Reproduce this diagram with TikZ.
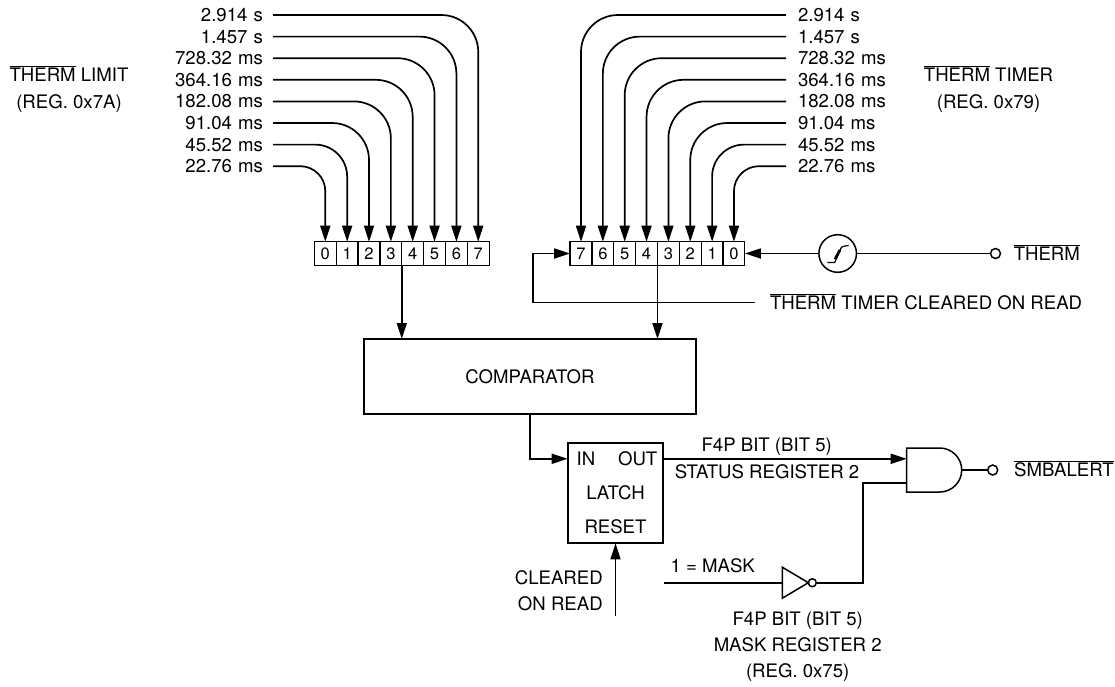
\documentclass[tikz,border=0pt]{standalone}
\usepackage{fontspec}
\setmainfont{TeX Gyre Heros}
\usetikzlibrary{arrows.meta,positioning,shapes.geometric,shapes.gates.logic.US}
\newcommand{\diagfont}{\fontsize{18.6pt}{26pt}\selectfont}
\newcommand{\bitfont}{\fontsize{16.5pt}{18pt}\selectfont}
\newcommand{\barname}[1]{$\overline{\mbox{#1}}$}
\tikzset{
    every node/.style={font=\diagfont,inner sep=0pt,outer sep=0pt},
    capstext/.style={text height=13pt,text depth=0pt},
    timeleft/.style={capstext,text width=96pt,align=right,inner xsep=10pt},
    timeright/.style={capstext,text width=96pt,align=left,inner xsep=12pt},
    bitcell/.style={rectangle,draw,line width=1.2pt,minimum width=21.85pt,minimum height=23.6pt,font=\bitfont,text height=11.4pt,text depth=0pt},
    blockbox/.style={rectangle,draw,line width=1.7pt,capstext},
    bubble/.style={circle,draw,line width=1.5pt,minimum size=10pt},
    sigline/.style={-{Triangle[length=16pt,width=10pt]},line width=1.7pt},
    plainline/.style={line width=1.7pt},
    bigbend/.style={sigline,rounded corners=37pt}
}
\begin{document}
\begin{tikzpicture}[x=1pt,y=-1pt,node distance=8.6pt]
    \useasboundingbox (0,0) rectangle (1115,686);
    \node[timeleft,anchor=east] (limt7) at (273,15) {2.914 s};
    \node[timeleft,below=of limt7] (limt6) {1.457 s};
    \node[timeleft,below=of limt6] (limt5) {728.32 ms};
    \node[timeleft,below=of limt5] (limt4) {364.16 ms};
    \node[timeleft,below=of limt4] (limt3) {182.08 ms};
    \node[timeleft,below=of limt3] (limt2) {91.04 ms};
    \node[timeleft,below=of limt2] (limt1) {45.52 ms};
    \node[timeleft,below=of limt1] (limt0) {22.76 ms};
    \node[timeright,anchor=west] (tmrt7) at (786,15) {2.914 s};
    \node[timeright,below=of tmrt7] (tmrt6) {1.457 s};
    \node[timeright,below=of tmrt6] (tmrt5) {728.32 ms};
    \node[timeright,below=of tmrt5] (tmrt4) {364.16 ms};
    \node[timeright,below=of tmrt4] (tmrt3) {182.08 ms};
    \node[timeright,below=of tmrt3] (tmrt2) {91.04 ms};
    \node[timeright,below=of tmrt2] (tmrt1) {45.52 ms};
    \node[timeright,below=of tmrt1] (tmrt0) {22.76 ms};
    \node[align=center,anchor=north] (limname) at (69,66) {\barname{THERM} LIMIT\\[1pt](REG. 0x7A)};
    \node[align=center,anchor=north] (tmrname) at (988.5,66) {\barname{THERM} TIMER\\[1pt](REG. 0x79)};
    % limit register
    \node[bitcell] (lim0) at (325.3,253.5) {0};
    \node[bitcell,right=0pt of lim0] (lim1) {1};
    \node[bitcell,right=0pt of lim1] (lim2) {2};
    \node[bitcell,right=0pt of lim2] (lim3) {3};
    \node[bitcell,right=0pt of lim3] (lim4) {4};
    \node[bitcell,right=0pt of lim4] (lim5) {5};
    \node[bitcell,right=0pt of lim5] (lim6) {6};
    \node[bitcell,right=0pt of lim6] (lim7) {7};
    % timer register
    \node[bitcell] (tmr7) at (581,253.5) {7};
    \node[bitcell,right=0pt of tmr7] (tmr6) {6};
    \node[bitcell,right=0pt of tmr6] (tmr5) {5};
    \node[bitcell,right=0pt of tmr5] (tmr4) {4};
    \node[bitcell,right=0pt of tmr4] (tmr3) {3};
    \node[bitcell,right=0pt of tmr3] (tmr2) {2};
    \node[bitcell,right=0pt of tmr2] (tmr1) {1};
    \node[bitcell,right=0pt of tmr1] (tmr0) {0};
    \draw[bigbend] (limt7.east) -| (lim7.north);
    \draw[bigbend] (limt6.east) -| (lim6.north);
    \draw[bigbend] (limt5.east) -| (lim5.north);
    \draw[bigbend] (limt4.east) -| (lim4.north);
    \draw[bigbend] (limt3.east) -| (lim3.north);
    \draw[bigbend] (limt2.east) -| (lim2.north);
    \draw[bigbend,rounded corners=32pt] (limt1.east) -| (lim1.north);
    \draw[bigbend,rounded corners=25pt] (limt0.east) -| (lim0.north);
    \draw[bigbend] (tmrt7.west) -| (tmr7.north);
    \draw[bigbend] (tmrt6.west) -| (tmr6.north);
    \draw[bigbend] (tmrt5.west) -| (tmr5.north);
    \draw[bigbend] (tmrt4.west) -| (tmr4.north);
    \draw[bigbend] (tmrt3.west) -| (tmr3.north);
    \draw[bigbend] (tmrt2.west) -| (tmr2.north);
    \draw[bigbend,rounded corners=32pt] (tmrt1.west) -| (tmr1.north);
    \draw[bigbend,rounded corners=25pt] (tmrt0.west) -| (tmr0.north);
    % therm input
    \node[circle,draw,line width=1.5pt,minimum size=37.6pt,right=74pt of tmr0] (schmitt) {};
    \node[bubble,right=134pt of schmitt] (thermpin) {};
    \node[capstext,right=13.3pt of thermpin] (thermtxt) {\barname{THERM}};
    \draw[line width=1.2pt] ([shift={(-10.4,9)}]schmitt.center) -- ([shift={(-3,9)}]schmitt.center) -- ([shift={(2.5,-3)}]schmitt.center) .. controls ([shift={(3.5,-7)}]schmitt.center) .. ([shift={(11,-8)}]schmitt.center);
    \draw[line width=2.6pt] ([shift={(-2.7,5.7)}]schmitt.center) -- ([shift={(2.3,-3.7)}]schmitt.center);
    \draw[plainline] (thermpin) -- (schmitt);
    \draw[sigline] (schmitt) -- (tmr0.east);
    \node[capstext,anchor=west,inner xsep=15pt] (cleartxt) at (755,302.5) {\barname{THERM} TIMER CLEARED ON READ};
    \coordinate (fbk) at (533,253.5);
    \draw[sigline] (cleartxt.west) -| (fbk) -- (tmr7.west);
    % comparator and latch
    \node[blockbox,minimum width=332pt,minimum height=75pt] (comp) at (530,376.5) {COMPARATOR};
    \draw[sigline] (lim3.south east) -- (lim3.south east |- comp.north);
    \draw[sigline] (tmr4.south east) -- (tmr4.south east |- comp.north);
    \node[blockbox,minimum width=95.6pt,minimum height=100pt] (latch) at (615.5,493.3) {LATCH};
    \node[capstext,below right=9pt and 9pt of latch.north west] (latchin) {IN};
    \node[capstext,below left=9pt and 6pt of latch.north east] (latchout) {OUT};
    \node[capstext,above=9.5pt of latch.south] (latchrst) {RESET};
    \draw[sigline] (comp.south) |- (latchin -| latch.west);
    \coordinate[below=72.7pt of latch.south] (rststart);
    \draw[sigline] (rststart) -- (latch.south);
    \node[align=right,anchor=north east] (cleared) at (602.7,570.5) {CLEARED\\ON READ};
    % gates
    \node[and gate US,draw,line width=1.5pt,minimum width=54pt,minimum height=44pt,anchor=west] (andg) at (906.7,470) {};
    \node[bubble,right=26pt of andg.east] (alertpin) {};
    \node[capstext,right=16.5pt of alertpin] (alerttxt) {\barname{SMBALERT}};
    \draw[plainline] (andg.east) -- (alertpin);
    \draw[sigline] (latchout -| latch.east) -- (latchout -| andg.west);
    \node[capstext] (f4ptop) at (766.7,445) {F4P BIT (BIT 5)};
    \node[capstext] (statustxt) at (767,472) {STATUS REGISTER 2};
    \node[isosceles triangle,isosceles triangle stretches,draw,line width=1.5pt,minimum width=31pt,minimum height=26pt,anchor=lower side] (invg) at (782.3,582.7) {};
    \node[bubble,minimum size=8pt,right=0pt of invg.apex] (invbub) {};
    \coordinate (maskstart) at (664,582.7);
    \coordinate (kink) at (863.3,483);
    \draw[plainline] (maskstart) -- (invg.lower side);
    \draw[plainline] (invbub.east) -| (kink) -- (kink -| andg.west);
    \node[capstext] (masktxt) at (712.7,565.7) {1 = MASK};
    \node[align=center,anchor=north] (maskreg) at (797.7,611.5) {F4P BIT (BIT 5)\\MASK REGISTER 2\\(REG. 0x75)};
\end{tikzpicture}
\end{document}
